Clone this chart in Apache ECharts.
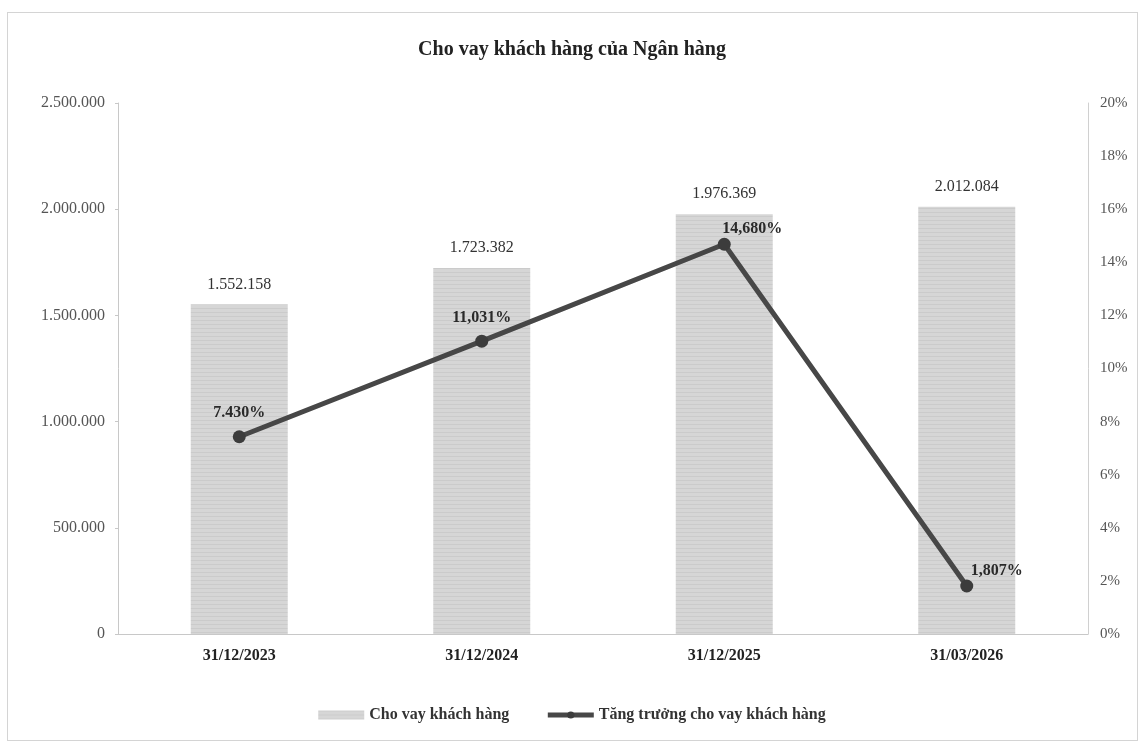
<!DOCTYPE html>
<html>
<head>
<meta charset="utf-8">
<title>Cho vay khách hàng của Ngân hàng</title>
<script src="https://cdn.jsdelivr.net/npm/echarts@6/dist/echarts.min.js"></script>
<style>
  html, body { margin: 0; padding: 0; background: #ffffff; }
  #frame { position: absolute; left: 7px; top: 12px; width: 1131px; height: 729px; border: 1px solid #d4d4d4; box-sizing: border-box; }
  #chart { position: absolute; left: 0; top: 0; width: 1144px; height: 746px; }
</style>
</head>
<body>
<div id="frame"></div>
<div id="chart"></div>
<script>
// Chart data
const categories = ['31/12/2023', '31/12/2024', '31/12/2025', '31/03/2026'];
const loanValues = [1552158, 1723382, 1976369, 2012084];
const growthValues = [7.430, 11.031, 14.680, 1.807];
const growthDecimalMarks = ['.', ',', ',', ','];
const leftTicks = [0, 500000, 1000000, 1500000, 2000000, 2500000];
const rightTicks = [0, 2, 4, 6, 8, 10, 12, 14, 16, 18, 20];

const seriesNames = ['Cho vay khách hàng', 'Tăng trưởng cho vay khách hàng'];
const FONT = '"Liberation Serif", "Times New Roman", serif';

// Thousands separated with dots
function groupDots(v) {
  return String(Math.round(v)).replace(/\B(?=(\d{3})+(?!\d))/g, '.');
}

// Per-point placement of the growth labels
const growthLabelOffsets = [[0, 0], [0, 0], [28, 8], [30, 8]];

// Fine hatch on the grey columns
const barDecal = {
  symbol: 'rect',
  symbolSize: 1,
  dashArrayX: [[1, 0]],
  dashArrayY: [1, 3],
  rotation: 0,
  color: 'rgba(0,0,0,0.05)'
};

const chart = echarts.init(document.getElementById('chart'), null, { renderer: 'canvas' });

chart.setOption({
  backgroundColor: 'transparent',
  animation: false,
  title: {
    text: 'Cho vay khách hàng của Ngân hàng',
    left: 'center',
    top: 35,
    textStyle: { fontFamily: FONT, fontSize: 20, fontWeight: 'bold', color: '#222' }
  },
  grid: { left: 118, right: 56, top: 103, bottom: 112, containLabel: false },
  legend: {
    bottom: 18,
    left: 'center',
    itemGap: 36,
    itemWidth: 46,
    itemHeight: 9,
    textStyle: { fontFamily: FONT, fontSize: 16, fontWeight: 'bold', color: '#333' },
    data: [
      { name: seriesNames[0], icon: 'rect', itemStyle: { color: '#d6d6d6' } },
      { name: seriesNames[1], lineStyle: { width: 5, color: '#474747' } }
    ]
  },
  xAxis: {
    type: 'category',
    data: categories,
    axisLine: { lineStyle: { color: '#c8c8c8', width: 1 } },
    axisTick: { show: false },
    axisLabel: { fontFamily: FONT, fontSize: 16, fontWeight: 'bold', color: '#222', margin: 14 }
  },
  yAxis: [
    {
      type: 'value',
      min: leftTicks[0],
      max: leftTicks[leftTicks.length - 1],
      interval: leftTicks[1] - leftTicks[0],
      splitLine: { show: false },
      axisLine: { show: true, lineStyle: { color: '#c8c8c8' } },
      axisTick: { show: true, length: 3, lineStyle: { color: '#c8c8c8' } },
      axisLabel: { fontFamily: FONT, fontSize: 16, color: '#555', margin: 13, formatter: v => groupDots(v) }
    },
    {
      type: 'value',
      position: 'right',
      min: rightTicks[0],
      max: rightTicks[rightTicks.length - 1],
      interval: rightTicks[1] - rightTicks[0],
      splitLine: { show: false },
      axisLine: { show: true, lineStyle: { color: '#d0d0d0' } },
      axisTick: { show: false },
      axisLabel: { fontFamily: FONT, fontSize: 15, color: '#555', margin: 12, formatter: v => v + '%' }
    }
  ],
  series: [
    {
      name: seriesNames[0],
      type: 'bar',
      yAxisIndex: 0,
      data: loanValues,
      barWidth: '40%',
      itemStyle: { color: '#d6d6d6', decal: barDecal },
      label: {
        show: true,
        position: 'top',
        distance: 12,
        fontFamily: FONT,
        fontSize: 16,
        color: '#333',
        formatter: p => groupDots(p.value)
      }
    },
    {
      name: seriesNames[1],
      type: 'line',
      yAxisIndex: 1,
      data: growthValues.map((v, i) => ({
        value: v,
        label: { offset: growthLabelOffsets[i] }
      })),
      symbol: 'circle',
      symbolSize: 13,
      lineStyle: { color: '#474747', width: 5 },
      itemStyle: { color: '#3c3c3c' },
      label: {
        show: true,
        position: 'top',
        distance: 9,
        fontFamily: FONT,
        fontSize: 16,
        fontWeight: 'bold',
        color: '#2a2a2a',
        formatter: p => p.value.toFixed(3).replace('.', growthDecimalMarks[p.dataIndex]) + '%'
      },
      z: 5
    }
  ]
});
</script>
</body>
</html>
